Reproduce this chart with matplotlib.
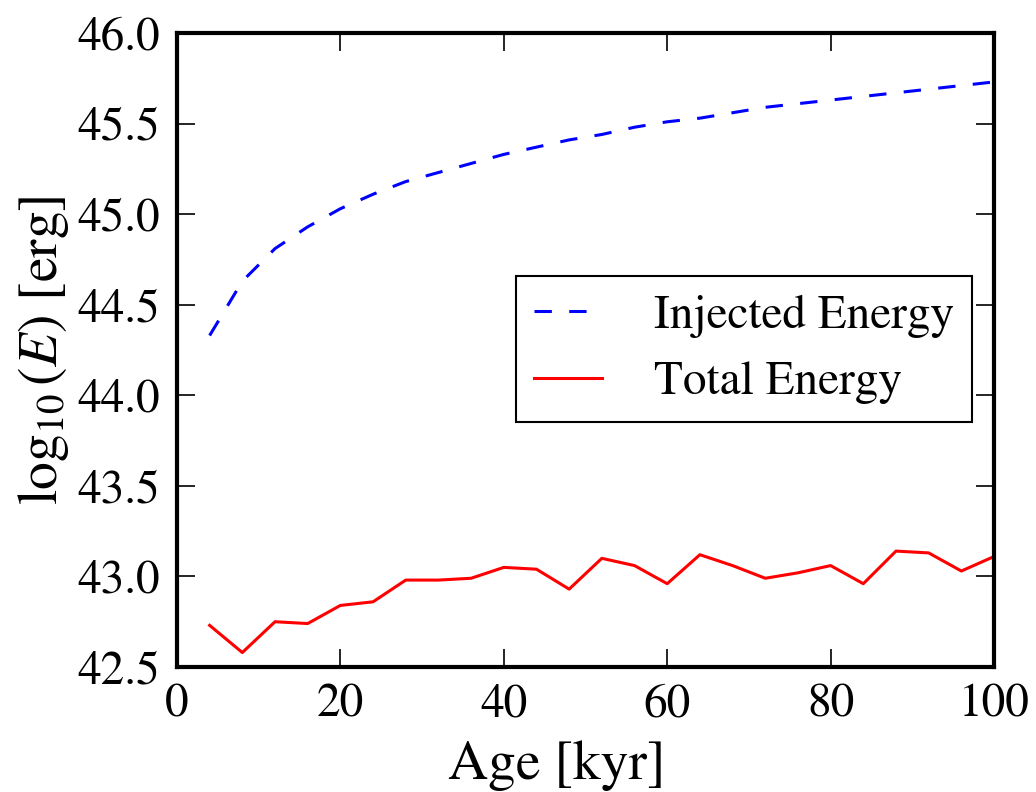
import matplotlib
matplotlib.use('Agg')
import matplotlib.pyplot as plt

plt.rcParams['font.family'] = 'STIXGeneral'
plt.rcParams['mathtext.fontset'] = 'stix'
plt.rcParams['lines.scale_dashes'] = False

# Age in kyr
age = [4, 8, 12, 16, 20, 24, 28, 32, 36, 40, 44, 48, 52,
       56, 60, 64, 68, 72, 76, 80, 84, 88, 92, 96, 100]

# log10 of the injected energy [erg]
injected = [44.33, 44.63, 44.81, 44.93, 45.03, 45.11, 45.18, 45.23, 45.28,
            45.33, 45.37, 45.41, 45.44, 45.48, 45.51, 45.53, 45.56, 45.59,
            45.61, 45.63, 45.65, 45.67, 45.69, 45.71, 45.73]

# log10 of the total energy [erg]
total = [42.73, 42.58, 42.75, 42.74, 42.84, 42.86, 42.98, 42.98, 42.99,
         43.05, 43.04, 42.93, 43.10, 43.06, 42.96, 43.12, 43.06, 42.99,
         43.02, 43.06, 42.96, 43.14, 43.13, 43.03, 43.11]

fig = plt.figure(figsize=(10.36, 7.92), dpi=100)
ax = fig.add_axes([0.1708, 0.1578, 0.7887, 0.8005])

ax.plot(age, injected, color='b', linestyle='--', dashes=(12.5, 12.5), lw=2.2,
        label='Injected Energy')
ax.plot(age, total, color='r', lw=2.2, label='Total Energy')

ax.set_xlim(0, 100)
ax.set_ylim(42.5, 46.0)
ax.set_xticks([0, 20, 40, 60, 80, 100])
ax.set_yticks([42.5, 43.0, 43.5, 44.0, 44.5, 45.0, 45.5, 46.0])
ax.set_yticklabels(['42.5', '43.0', '43.5', '44.0', '44.5', '45.0', '45.5', '46.0'])

for s in ax.spines.values():
    s.set_linewidth(3)
ax.tick_params(direction='in', which='major', length=13, width=1.2,
               labelsize=34, top=True, right=True, pad=12)

ax.set_xlabel('Age [kyr]', fontsize=40)
ax.set_ylabel(r'$\log_{10}(E)$ [erg]', fontsize=40)
ax.xaxis.set_label_coords(0.465, -0.115)
ax.yaxis.set_label_coords(-0.13, 0.5)

leg = ax.legend(loc='center right', bbox_to_anchor=(0.973, 0.501),
                fontsize=34, handlelength=1.43, handletextpad=1.1,
                borderpad=0.38, labelspacing=0.5, fancybox=False,
                framealpha=1, borderaxespad=0)
leg.get_frame().set_edgecolor('k')
leg.get_frame().set_linewidth(1.5)

fig.savefig('out.png', dpi=100)
